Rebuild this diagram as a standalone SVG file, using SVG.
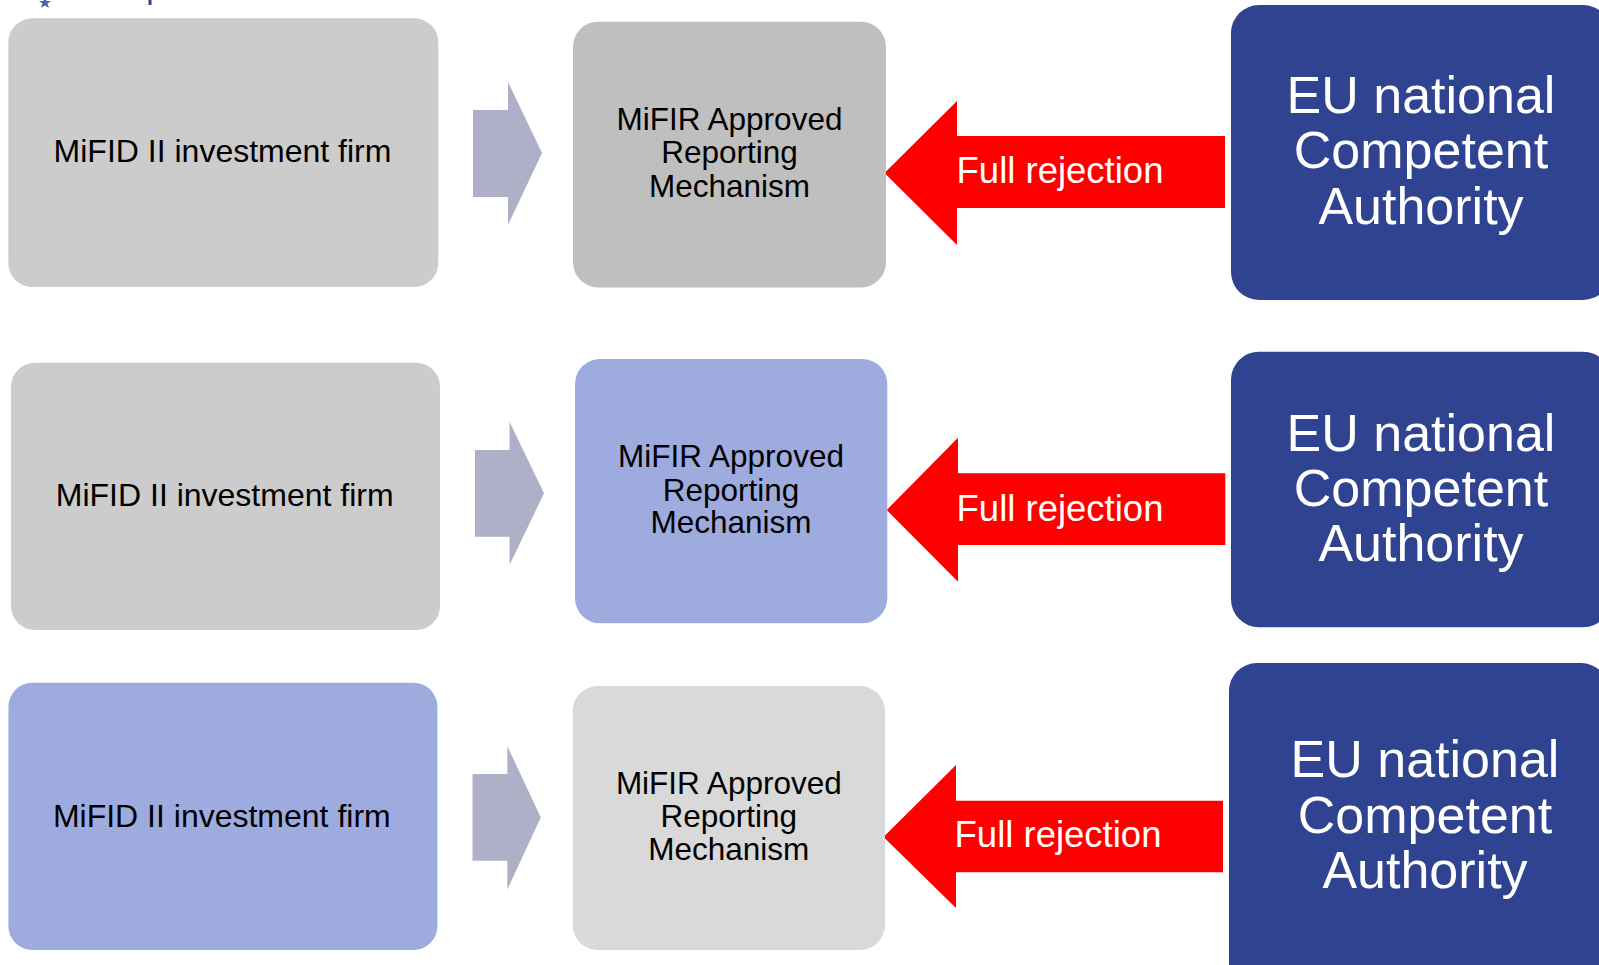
<svg xmlns="http://www.w3.org/2000/svg" width="1599" height="965" viewBox="0 0 1599 965">
<style>
.firm{font-family:"Liberation Sans",Arial,sans-serif;font-size:32px;fill:#000;text-anchor:middle}
.arm{font-family:"Liberation Sans",Arial,sans-serif;font-size:31.5px;fill:#000;text-anchor:middle}
.nca{font-family:"Liberation Sans",Arial,sans-serif;font-size:52px;fill:#fff;text-anchor:middle}
.rej{font-family:"Liberation Sans",Arial,sans-serif;font-size:36.5px;fill:#fff;text-anchor:middle}
.chev{fill:#aeb0c8}
.red{fill:#ff0000}
.nbox{fill:#2f4390}
</style>
<rect width="1599" height="965" fill="#ffffff"/>
<g id="logo-remnant">
<polygon points="45,-4 46.5,1 51,1 47.5,3.5 49,8 45,5.5 41,8 42.5,3.5 39,1 43.5,1" fill="#4a63b8"/>
<rect x="148.5" y="0" width="3" height="5" fill="#2f4390"/>
</g>
<g id="connectors">
<polygon class="chev" points="473,110 508,110 508,82 542,153 508,225 508,197 473,197"/>
<polygon class="chev" points="475,450 509.5,450 509.5,421.7 544,493.3 509.5,565 509.5,536.7 475,536.7"/>
<polygon class="chev" points="472.5,774 507.3,774 507.3,746 540.8,817.5 507.3,889.5 507.3,860.7 472.5,860.7"/>
<g id="reject1"><polygon class="red" points="1225,136 957,136 957,101 884.5,173 957,245 957,208 1225,208"/><text class="rej" x="1060" y="183">Full rejection</text></g>
<g id="reject2"><polygon class="red" points="1225.3,473.3 958,473.3 958,437.7 886.7,510 958,581.7 958,545 1225.3,545"/><text class="rej" x="1060" y="521">Full rejection</text></g>
<g id="reject3"><polygon class="red" points="1223,800.7 956,800.7 956,765 883.5,837 956,908 956,872.3 1223,872.3"/><text class="rej" x="1058" y="847">Full rejection</text></g>
</g>
<g id="firm1"><rect x="8.3" y="18.3" width="430" height="268.7" rx="24" fill="#cccccc"/><text class="firm" x="222.5" y="162">MiFID II investment firm</text></g>
<g id="arm1"><rect x="573" y="21.7" width="313" height="265.7" rx="25" fill="#bfbfbf"/><text class="arm" x="729.5" y="130">MiFIR Approved</text><text class="arm" x="729.5" y="163">Reporting</text><text class="arm" x="729.5" y="197">Mechanism</text></g>
<g id="nca1"><rect class="nbox" x="1231" y="5" width="380" height="295" rx="28"/><text class="nca" x="1421" y="113">EU national</text><text class="nca" x="1421" y="168">Competent</text><text class="nca" x="1421" y="224">Authority</text></g>
<g id="firm2"><rect x="11" y="362.7" width="429" height="267.3" rx="24" fill="#cccccc"/><text class="firm" x="224.7" y="505.7">MiFID II investment firm</text></g>
<g id="arm2"><rect x="575" y="359" width="312.3" height="264.3" rx="25" fill="#9eabdf"/><text class="arm" x="731" y="467.3">MiFIR Approved</text><text class="arm" x="731" y="500.7">Reporting</text><text class="arm" x="731" y="533.3">Mechanism</text></g>
<g id="nca2"><rect class="nbox" x="1231" y="351.7" width="380" height="275.6" rx="28"/><text class="nca" x="1421" y="450.7">EU national</text><text class="nca" x="1421" y="505.7">Competent</text><text class="nca" x="1421" y="561">Authority</text></g>
<g id="firm3"><rect x="8.4" y="682.7" width="429" height="267.3" rx="24" fill="#9eabdf"/><text class="firm" x="221.8" y="826.7">MiFID II investment firm</text></g>
<g id="arm3"><rect x="572.7" y="686" width="312.3" height="264" rx="25" fill="#d9d9d9"/><text class="arm" x="728.8" y="794.3">MiFIR Approved</text><text class="arm" x="728.8" y="827.3">Reporting</text><text class="arm" x="728.8" y="860">Mechanism</text></g>
<g id="nca3"><rect class="nbox" x="1229" y="663" width="380" height="330" rx="28"/><text class="nca" x="1425" y="777">EU national</text><text class="nca" x="1425" y="833">Competent</text><text class="nca" x="1425" y="888">Authority</text></g>
</svg>
